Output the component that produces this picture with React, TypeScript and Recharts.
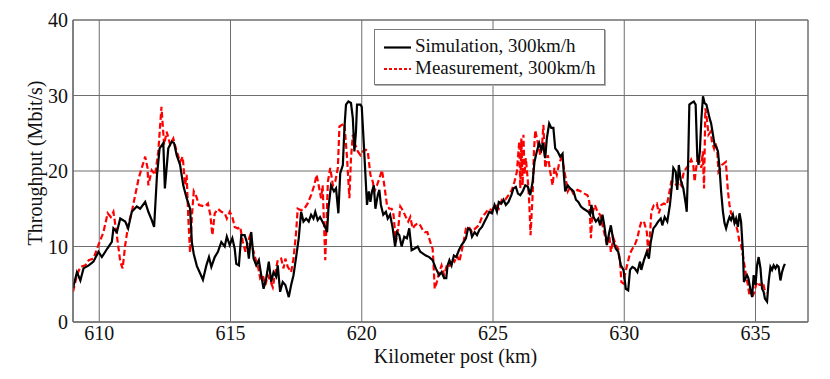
import React from 'react';
import {
  LineChart,
  Line,
  XAxis,
  YAxis,
  CartesianGrid,
  ReferenceArea,
} from 'recharts';

// [kilometer post, throughput Mbit/s]
const simulation: [number, number][] = [
  [609.0, 4.5], [609.15, 6.6], [609.28, 5.5], [609.4, 7.1], [609.6, 7.5], [609.78, 8.0],
  [609.97, 9.3], [610.1, 8.6], [610.3, 9.7], [610.48, 10.6], [610.54, 12.4], [610.67, 11.9],
  [610.8, 13.7], [610.99, 13.3], [611.1, 12.4], [611.24, 14.6], [611.43, 15.3], [611.56, 15.0],
  [611.75, 15.9], [611.87, 14.6], [612.0, 13.5], [612.09, 12.6], [612.2, 19.5], [612.3, 23.0],
  [612.44, 23.7], [612.5, 17.7], [612.63, 23.0], [612.76, 23.9], [612.85, 23.7], [612.95, 22.1],
  [613.08, 20.8], [613.2, 18.1], [613.33, 16.4], [613.46, 15.0], [613.53, 10.5], [613.6, 9.0],
  [613.72, 7.4], [613.85, 6.4], [613.95, 5.6], [614.08, 7.5], [614.18, 8.6], [614.27, 7.3],
  [614.4, 8.6], [614.52, 9.3], [614.65, 10.6], [614.78, 10.0], [614.86, 11.3], [614.97, 10.2],
  [615.07, 11.1], [615.16, 9.7], [615.22, 7.7], [615.32, 7.5], [615.41, 11.5], [615.54, 11.5],
  [615.62, 10.6], [615.7, 8.4], [615.79, 11.9], [615.88, 8.4], [615.98, 7.5], [616.08, 8.2],
  [616.17, 6.2], [616.26, 4.4], [616.36, 5.8], [616.46, 8.0], [616.55, 5.3], [616.64, 6.6],
  [616.74, 6.0], [616.8, 7.5], [616.89, 4.0], [616.99, 5.3], [617.09, 4.9], [617.22, 3.3],
  [617.31, 4.9], [617.4, 6.2], [617.5, 8.6], [617.6, 11.1], [617.69, 14.6], [617.78, 13.3],
  [617.88, 13.7], [617.98, 13.3], [618.07, 14.2], [618.16, 13.7], [618.23, 14.6], [618.32, 13.5],
  [618.41, 13.9], [618.5, 13.3], [618.58, 12.8], [618.68, 11.9], [618.73, 15.0], [618.83, 18.1],
  [618.94, 17.3], [619.02, 17.7], [619.11, 14.4], [619.18, 19.7], [619.28, 20.8], [619.34, 25.7],
  [619.4, 28.8], [619.49, 29.2], [619.59, 29.0], [619.66, 27.0], [619.72, 22.6], [619.78, 25.2],
  [619.82, 28.8], [619.95, 28.8], [620.0, 28.5], [620.08, 23.5], [620.14, 19.5], [620.2, 15.5],
  [620.27, 17.3], [620.33, 15.9], [620.39, 17.3], [620.46, 18.1], [620.52, 15.0], [620.61, 16.8],
  [620.67, 17.5], [620.73, 15.5], [620.82, 14.2], [620.92, 14.6], [620.99, 13.7], [621.08, 14.2],
  [621.18, 12.4], [621.27, 10.0], [621.34, 11.9], [621.43, 11.5], [621.52, 10.0], [621.62, 11.3],
  [621.72, 11.1], [621.81, 12.4], [621.9, 9.5], [622.0, 9.7], [622.13, 10.0], [622.23, 9.3],
  [622.32, 9.1], [622.44, 8.8], [622.57, 8.6], [622.7, 8.2], [622.82, 7.1], [622.95, 6.2],
  [623.04, 6.6], [623.14, 5.8], [623.22, 5.8], [623.27, 7.5], [623.34, 8.2], [623.42, 7.5],
  [623.51, 8.8], [623.6, 8.6], [623.7, 9.5], [623.8, 10.2], [623.89, 10.6], [623.97, 11.1],
  [624.05, 12.4], [624.14, 12.2], [624.2, 11.3], [624.3, 11.9], [624.39, 11.5], [624.48, 12.2],
  [624.58, 12.6], [624.68, 13.3], [624.77, 13.9], [624.86, 14.6], [624.96, 14.4], [625.06, 15.5],
  [625.15, 14.6], [625.22, 15.9], [625.32, 15.7], [625.4, 16.2], [625.49, 15.5], [625.59, 15.9],
  [625.7, 16.8], [625.78, 17.7], [625.87, 17.9], [625.95, 17.0], [626.04, 16.8], [626.13, 17.3],
  [626.23, 18.1], [626.33, 17.9], [626.42, 16.8], [626.51, 18.6], [626.58, 21.2], [626.67, 22.6],
  [626.76, 23.7], [626.84, 22.8], [626.9, 23.7], [626.99, 21.7], [627.05, 24.3], [627.14, 26.3],
  [627.22, 25.7], [627.3, 25.7], [627.37, 23.0], [627.46, 22.6], [627.56, 21.9], [627.65, 22.3],
  [627.7, 19.5], [627.75, 17.3], [627.85, 18.1], [627.94, 17.7], [628.07, 17.3], [628.16, 16.2],
  [628.25, 15.9], [628.35, 15.3], [628.45, 15.0], [628.54, 14.8], [628.63, 14.6], [628.7, 14.2],
  [628.75, 15.5], [628.83, 13.9], [628.92, 13.3], [629.01, 13.7], [629.08, 12.8], [629.17, 14.2],
  [629.24, 12.8], [629.34, 10.2], [629.43, 11.9], [629.49, 12.8], [629.59, 10.6], [629.68, 9.7],
  [629.77, 9.3], [629.87, 7.5], [629.97, 6.9], [630.06, 4.4], [630.15, 4.2], [630.22, 6.9],
  [630.31, 7.3], [630.4, 7.1], [630.5, 6.6], [630.6, 8.0], [630.65, 6.9], [630.75, 8.2],
  [630.86, 9.3], [630.94, 8.4], [631.01, 10.6], [631.11, 12.4], [631.2, 12.8], [631.29, 13.3],
  [631.39, 13.7], [631.45, 12.8], [631.54, 13.9], [631.64, 13.3], [631.74, 15.5], [631.83, 18.6],
  [631.87, 20.4], [631.96, 19.9], [632.02, 17.5], [632.08, 20.8], [632.15, 18.8], [632.25, 17.7],
  [632.34, 15.7], [632.38, 14.6], [632.43, 20.4], [632.48, 28.8], [632.55, 29.0], [632.65, 29.2],
  [632.72, 28.8], [632.78, 22.0], [632.83, 20.8], [632.88, 22.6], [632.94, 27.0], [633.0, 29.9],
  [633.06, 29.0], [633.13, 28.8], [633.19, 27.9], [633.25, 27.0], [633.31, 26.3], [633.38, 24.8],
  [633.44, 23.5], [633.5, 23.2], [633.57, 22.6], [633.63, 20.4], [633.69, 17.3], [633.76, 14.6],
  [633.82, 13.1], [633.88, 12.4], [633.95, 13.3], [634.01, 13.9], [634.07, 13.5], [634.14, 14.2],
  [634.2, 13.1], [634.26, 13.7], [634.33, 12.6], [634.39, 14.4], [634.45, 13.3], [634.52, 9.3],
  [634.56, 5.3], [634.62, 5.8], [634.68, 6.2], [634.73, 5.8], [634.81, 4.2], [634.87, 3.3],
  [634.93, 6.2], [635.0, 4.9], [635.06, 7.5], [635.12, 8.6], [635.19, 7.1], [635.25, 4.4],
  [635.31, 4.0], [635.36, 3.1], [635.44, 2.7], [635.5, 5.3], [635.57, 7.3], [635.63, 6.9],
  [635.69, 7.5], [635.76, 7.1], [635.82, 7.5], [635.88, 7.3], [635.95, 5.5], [636.01, 6.6],
  [636.07, 7.3], [636.12, 7.7],
];

const measurement: [number, number][] = [
  [609.0, 4.0], [609.15, 6.2], [609.28, 7.3], [609.47, 7.5], [609.6, 8.2], [609.78, 8.4],
  [609.97, 10.2], [610.16, 11.9], [610.32, 14.4], [610.44, 13.9], [610.54, 14.6], [610.67, 11.5],
  [610.8, 8.0], [610.89, 7.1], [610.99, 10.2], [611.1, 12.8], [611.24, 14.6], [611.37, 16.8],
  [611.5, 19.0], [611.62, 20.4], [611.75, 21.9], [611.84, 20.4], [611.87, 18.1], [612.0, 20.1],
  [612.13, 19.5], [612.25, 22.6], [612.37, 28.5], [612.47, 23.5], [612.57, 25.2], [612.7, 23.5],
  [612.82, 24.3], [612.95, 22.6], [613.08, 21.2], [613.18, 21.9], [613.27, 18.1], [613.33, 19.5],
  [613.39, 14.0], [613.46, 9.2], [613.53, 14.0], [613.6, 17.3], [613.7, 16.6], [613.8, 15.5],
  [614.02, 15.3], [614.14, 15.7], [614.23, 14.2], [614.31, 11.5], [614.4, 14.4], [614.52, 15.0],
  [614.65, 14.6], [614.78, 14.4], [614.86, 13.7], [614.97, 14.6], [615.07, 13.9], [615.16, 12.6],
  [615.28, 12.4], [615.37, 12.6], [615.47, 10.6], [615.57, 9.3], [615.66, 10.6], [615.75, 11.5],
  [615.85, 9.7], [615.95, 8.4], [616.04, 7.5], [616.13, 5.8], [616.23, 6.2], [616.33, 4.9],
  [616.42, 6.2], [616.51, 5.5], [616.61, 4.6], [616.71, 6.6], [616.8, 8.2], [616.93, 8.4],
  [617.02, 7.1], [617.09, 8.4], [617.18, 7.3], [617.31, 6.6], [617.4, 8.4], [617.5, 11.9],
  [617.56, 15.0], [617.69, 14.8], [617.81, 15.0], [617.94, 15.7], [618.07, 16.8], [618.19, 18.1],
  [618.28, 19.5], [618.36, 18.1], [618.45, 16.4], [618.51, 18.1], [618.55, 14.2], [618.61, 8.2],
  [618.71, 18.6], [618.8, 20.4], [618.9, 18.1], [618.99, 18.6], [619.09, 20.4], [619.15, 25.9],
  [619.24, 26.1], [619.34, 26.3], [619.44, 21.7], [619.53, 16.4], [619.59, 21.7], [619.66, 24.8],
  [619.75, 23.5], [619.85, 22.6], [619.95, 22.1], [620.04, 22.6], [620.16, 22.8], [620.23, 22.6],
  [620.33, 19.5], [620.42, 18.6], [620.48, 17.3], [620.58, 18.1], [620.67, 19.0], [620.77, 20.1],
  [620.86, 18.1], [620.96, 15.5], [621.05, 15.0], [621.14, 15.0], [621.21, 14.2], [621.3, 10.6],
  [621.39, 12.4], [621.47, 15.3], [621.56, 14.8], [621.68, 13.9], [621.77, 13.3], [621.85, 13.9],
  [621.94, 12.4], [622.03, 12.8], [622.13, 13.1], [622.23, 12.8], [622.32, 12.2], [622.4, 11.9],
  [622.5, 11.9], [622.61, 10.6], [622.7, 9.7], [622.73, 8.0], [622.78, 4.4], [622.86, 5.3],
  [622.95, 6.6], [623.04, 7.5], [623.14, 6.2], [623.24, 7.5], [623.33, 7.3], [623.44, 8.4],
  [623.53, 8.0], [623.63, 8.8], [623.72, 8.0], [623.8, 9.3], [623.89, 10.8], [623.97, 12.4],
  [624.08, 12.6], [624.2, 11.9], [624.33, 12.4], [624.46, 12.8], [624.58, 13.9], [624.71, 14.4],
  [624.84, 15.0], [624.96, 14.8], [625.09, 15.5], [625.22, 15.0], [625.34, 16.2], [625.47, 16.2],
  [625.59, 16.8], [625.72, 17.5], [625.82, 18.6], [625.91, 19.9], [625.95, 21.7], [626.0, 23.9],
  [626.04, 17.7], [626.08, 24.3], [626.13, 18.1], [626.16, 24.8], [626.2, 19.5], [626.25, 21.7],
  [626.33, 18.6], [626.38, 15.9], [626.43, 11.5], [626.51, 16.8], [626.56, 22.6], [626.61, 25.4],
  [626.71, 23.7], [626.8, 22.1], [626.86, 23.0], [626.92, 26.1], [626.99, 20.4], [627.09, 22.1],
  [627.18, 19.9], [627.27, 18.1], [627.34, 20.4], [627.43, 19.5], [627.52, 21.0], [627.6, 21.7],
  [627.68, 20.8], [627.77, 19.0], [627.85, 17.3], [627.94, 17.9], [628.06, 17.0], [628.22, 17.5],
  [628.35, 17.3], [628.48, 17.0], [628.6, 16.8], [628.67, 15.9], [628.73, 11.1], [628.79, 14.4],
  [628.88, 15.5], [628.98, 14.6], [629.08, 14.2], [629.17, 12.8], [629.26, 11.5], [629.34, 10.2],
  [629.43, 11.5], [629.49, 9.3], [629.59, 11.1], [629.68, 10.2], [629.77, 9.7], [629.84, 8.0],
  [629.89, 5.3], [629.97, 5.1], [630.02, 6.2], [630.12, 7.7], [630.22, 9.1], [630.31, 9.7],
  [630.4, 10.2], [630.5, 11.1], [630.58, 12.4], [630.65, 13.3], [630.75, 13.3], [630.86, 11.9],
  [630.91, 9.3], [630.98, 11.5], [631.03, 14.6], [631.13, 15.5], [631.24, 15.7], [631.32, 14.4],
  [631.41, 15.5], [631.51, 15.7], [631.62, 15.5], [631.7, 16.8], [631.79, 18.6], [631.89, 18.6],
  [631.99, 18.1], [632.08, 18.6], [632.17, 18.1], [632.27, 19.9], [632.37, 20.4], [632.46, 20.8],
  [632.55, 21.5], [632.63, 20.8], [632.68, 18.6], [632.74, 20.4], [632.81, 22.1], [632.87, 21.2],
  [632.94, 20.4], [632.99, 22.6], [633.04, 17.7], [633.09, 28.3], [633.16, 26.5], [633.21, 24.8],
  [633.29, 25.2], [633.34, 23.9], [633.42, 23.0], [633.47, 23.7], [633.54, 22.8], [633.59, 19.9],
  [633.67, 20.4], [633.72, 20.8], [633.8, 21.0], [633.87, 21.2], [633.95, 17.3], [634.01, 15.5],
  [634.07, 14.4], [634.14, 14.2], [634.2, 13.3], [634.26, 12.8], [634.33, 11.9], [634.39, 10.6],
  [634.45, 10.2], [634.52, 8.8], [634.58, 7.5], [634.64, 6.2], [634.71, 4.9], [634.77, 3.5],
  [634.83, 3.5], [634.9, 3.5], [634.96, 4.0], [635.02, 4.9], [635.09, 5.3], [635.15, 4.9],
  [635.21, 4.9], [635.28, 5.3], [635.34, 4.4], [635.4, 3.8],
];

const xTicks = [610, 615, 620, 625, 630, 635];
const yTicks = [0, 10, 20, 30, 40];

const simData = simulation.map(([km, v]) => ({ km, v }));
const measData = measurement.map(([km, v]) => ({ km, v }));

const FONT = '"Liberation Serif", "Times New Roman", serif';
const GRID = '#6e6e6e';

const YTitle = ({ viewBox }: any) => {
  const cx = viewBox.x + 35;
  const cy = viewBox.y + viewBox.height / 2 - 8;
  return (
    <text
      x={cx}
      y={cy}
      transform={`rotate(-90 ${cx} ${cy})`}
      textAnchor="middle"
      dominantBaseline="central"
      fontFamily={FONT}
      fontSize={20}
      fill="#111"
    >
      Throughput (Mbit/s)
    </text>
  );
};

const XTitle = ({ viewBox }: any) => {
  const cx = viewBox.x + viewBox.width / 2 + 15;
  return (
    <text x={cx} y={viewBox.y + 40.5} textAnchor="middle" fontFamily={FONT} fontSize={20} fill="#111">
      Kilometer post (km)
    </text>
  );
};

const LegendBox = () => (
  <div
    style={{
      position: 'absolute',
      left: 374,
      top: 29,
      width: 229,
      height: 54,
      background: '#fff',
      border: '1px solid #7a7a7a',
      boxShadow: '1px 1px 0 #b0b0b0',
      fontFamily: FONT,
      fontSize: 19,
      color: '#111',
    }}
  >
    <svg width={40} height={54} style={{ position: 'absolute', left: 0, top: 0 }}>
      <line x1={9} x2={36} y1={17.5} y2={17.5} stroke="#000" strokeWidth={2.2} />
      <line x1={9} x2={36} y1={39} y2={39} stroke="#ff0000" strokeWidth={1.8} strokeDasharray="3 2" />
    </svg>
    <div style={{ position: 'absolute', left: 40, top: 5, lineHeight: '22px', whiteSpace: 'nowrap' }}>
      Simulation, 300km/h
    </div>
    <div style={{ position: 'absolute', left: 40, top: 27, lineHeight: '22px', whiteSpace: 'nowrap' }}>
      Measurement, 300km/h
    </div>
  </div>
);

const tickStyle = { fontFamily: FONT, fontSize: 20, fill: '#111' };

export default function App() {
  return (
    <div
      style={{
        position: 'absolute',
        left: 0,
        top: 0,
        width: 830,
        height: 379,
        background: '#fff',
        fontFamily: FONT,
      }}
    >
      <LineChart
        width={830}
        height={379}
        margin={{ top: 20, right: 22, bottom: 0, left: 0 }}
        style={{ fontFamily: FONT }}
      >
        <CartesianGrid stroke={GRID} strokeWidth={1} />
        <XAxis
          type="number"
          dataKey="km"
          domain={[609, 637]}
          ticks={xTicks}
          allowDataOverflow
          height={57}
          tickSize={0}
          tickMargin={4}
          axisLine={{ stroke: GRID }}
          tick={tickStyle}
          label={{ content: XTitle }}
        />
        <YAxis
          type="number"
          domain={[0, 40]}
          ticks={yTicks}
          width={73}
          tickSize={0}
          tickMargin={5}
          axisLine={{ stroke: GRID }}
          tick={tickStyle}
          label={{ content: YTitle }}
        />
        <ReferenceArea x1={609} x2={637} y1={0} y2={40} fill="none" stroke={GRID} strokeWidth={1} ifOverflow="visible" />
        <Line
          data={measData}
          dataKey="v"
          type="linear"
          stroke="#ff0000"
          strokeWidth={2.2}
          strokeDasharray="6 3"
          dot={false}
          isAnimationActive={false}
        />
        <Line
          data={simData}
          dataKey="v"
          type="linear"
          stroke="#000"
          strokeWidth={2.2}
          dot={false}
          isAnimationActive={false}
        />
      </LineChart>
      <LegendBox />
    </div>
  );
}
